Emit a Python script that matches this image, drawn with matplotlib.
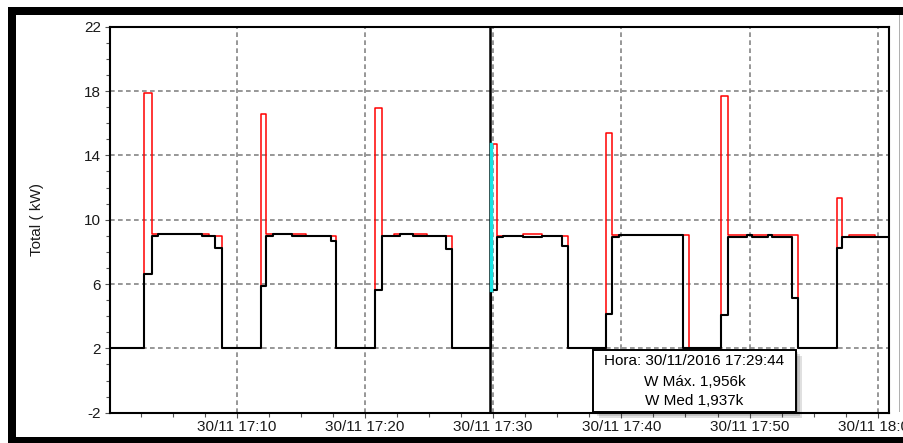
import matplotlib.pyplot as plt
from matplotlib.patches import Rectangle
from matplotlib.ticker import MultipleLocator

plt.rcParams['font.family'] = ['Liberation Sans', 'DejaVu Sans']
plt.rcParams['axes.unicode_minus'] = False

# minutes after 17:00 (30/11/2016) where the value changes, kW
t_med = [0.0, 2.78, 3.36, 3.83, 7.26, 8.30, 8.87,
         11.86, 12.25, 12.80, 14.28, 17.35, 17.71,
         20.78, 21.30, 22.73, 23.77, 26.32, 26.81,
         29.85, 30.32, 30.79, 32.35, 33.78, 35.34, 35.86,
         38.77, 39.29, 39.84, 44.78,
         47.77, 48.29, 49.77, 50.16, 51.46, 51.72, 53.28, 53.80,
         56.79, 57.23, 60.69]
w_med = [2.0, 6.6, 8.98, 9.08, 8.98, 8.25, 2.0,
         5.85, 8.98, 9.08, 8.98, 8.68, 2.0,
         5.66, 8.98, 9.08, 8.98, 8.17, 2.0,
         5.66, 8.9, 8.98, 8.93, 8.98, 8.37, 2.0,
         4.16, 8.93, 9.02, 2.0,
         4.08, 8.93, 9.02, 8.93, 9.02, 8.93, 5.12, 2.0,
         8.21, 8.9, 8.9]

t_max = [0.0, 2.78, 3.36, 7.26, 7.81, 8.87,
         11.86, 12.25, 15.37, 17.71,
         20.78, 21.30, 22.29, 24.86, 26.81,
         29.85, 30.32, 32.35, 33.78, 35.86,
         38.77, 39.29, 45.30,
         47.77, 48.29, 53.80,
         56.79, 57.23, 57.75, 59.78, 60.69]
w_max = [2.0, 17.9, 9.08, 9.1, 8.98, 2.0,
         16.57, 9.08, 8.98, 2.0,
         16.96, 8.98, 9.08, 8.98, 2.0,
         14.68, 8.98, 9.08, 8.98, 2.0,
         15.40, 9.02, 2.0,
         17.71, 9.02, 2.0,
         11.32, 8.9, 9.02, 8.9, 8.9]

y_ticks = [-2, 2, 6, 10, 14, 18, 22]
x_ticks = [10, 20, 30, 40, 50, 60]
x_labels = ['30/11 17:10', '30/11 17:20', '30/11 17:30',
            '30/11 17:40', '30/11 17:50', '30/11 18:00']

cursor_t = 29 + 44 / 60  # 17:29:44
tooltip_lines = ['Hora: 30/11/2016 17:29:44', 'W Máx. 1,956k', 'W Med 1,937k']

W, H = 904, 443
fig = plt.figure(figsize=(W / 100, H / 100), dpi=100)
ax = fig.add_axes([110 / W, 1 - 412.7 / H, 779.3 / W, 386 / H])

ax.step(t_max, w_max, where='post', color='#ff0000', lw=1.1, zorder=2)
ax.step(t_med, w_med, where='post', color='black', lw=1.5, zorder=3)

# cursor and the highlighted sample
ax.axvline(cursor_t, color='black', lw=1.8, zorder=4)
i = next(k for k, t in enumerate(t_max) if t >= cursor_t)
j = t_med.index(t_max[i])
ax.plot([t_max[i], t_max[i]], [w_med[j], w_max[i]], color='#19e3e3', lw=2.4, zorder=5)

ax.set_xlim(0.11, 60.9)
ax.set_ylim(-2, 22)
ax.set_yticks(y_ticks)
ax.yaxis.set_minor_locator(MultipleLocator(1))
ax.set_xticks(x_ticks)
ax.set_xticklabels(x_labels)
ax.xaxis.set_minor_locator(MultipleLocator(2.5))

ax.grid(True, which='major', color='#858585', lw=1.2, linestyle=(0, (2.8, 2.0)))
for s in ax.spines.values():
    s.set_linewidth(1.5)
ax.tick_params(which='both', direction='out', color='#555555', width=0.8,
               labelsize=11, labelcolor='#1a1a1a')
ax.tick_params(which='major', length=3.4)
ax.tick_params(which='minor', length=2.6)
ax.tick_params(axis='y', pad=3)
ax.tick_params(axis='x', pad=2)

ax.set_ylabel('Total ( kW)', fontsize=11, color='#1a1a1a', va='center')
ax.yaxis.set_label_coords(-0.0937, 0.5)

# tooltip box with shadow
bx0, by0, bx1, by1 = 0.620, 0.0026, 0.880, 0.162
px = 1 / 779.3
py = 1 / 386
for k in (3, 2, 1):
    ax.add_patch(Rectangle((bx0 + 2 * k * px, by0 - 2 * k * py), bx1 - bx0, by1 - by0,
                           transform=ax.transAxes, facecolor='black', alpha=0.12,
                           edgecolor='none', zorder=6, clip_on=False))
ax.add_patch(Rectangle((bx0, by0), bx1 - bx0, by1 - by0, transform=ax.transAxes,
                       facecolor='white', edgecolor='black', lw=1.4, zorder=7, clip_on=False))
for line, yy in zip(tooltip_lines, [0.134, 0.080, 0.030]):
    ax.text((bx0 + bx1) / 2, yy, line, transform=ax.transAxes, ha='center', va='center',
            fontsize=11, color='black', zorder=8)

# window frame
def band(x0, y0, x1, y1, c='black'):
    fig.add_artist(Rectangle((x0 / W, 1 - y1 / H), (x1 - x0) / W, (y1 - y0) / H,
                             transform=fig.transFigure, facecolor=c, edgecolor='none', zorder=10))

band(8, 7, W, 15)
band(8, 7, 16, H)
band(8, 437, W, H)
band(899.5, 15, 900.5, 412, '#b0b0b0')

fig.savefig('out.png', dpi=100)
